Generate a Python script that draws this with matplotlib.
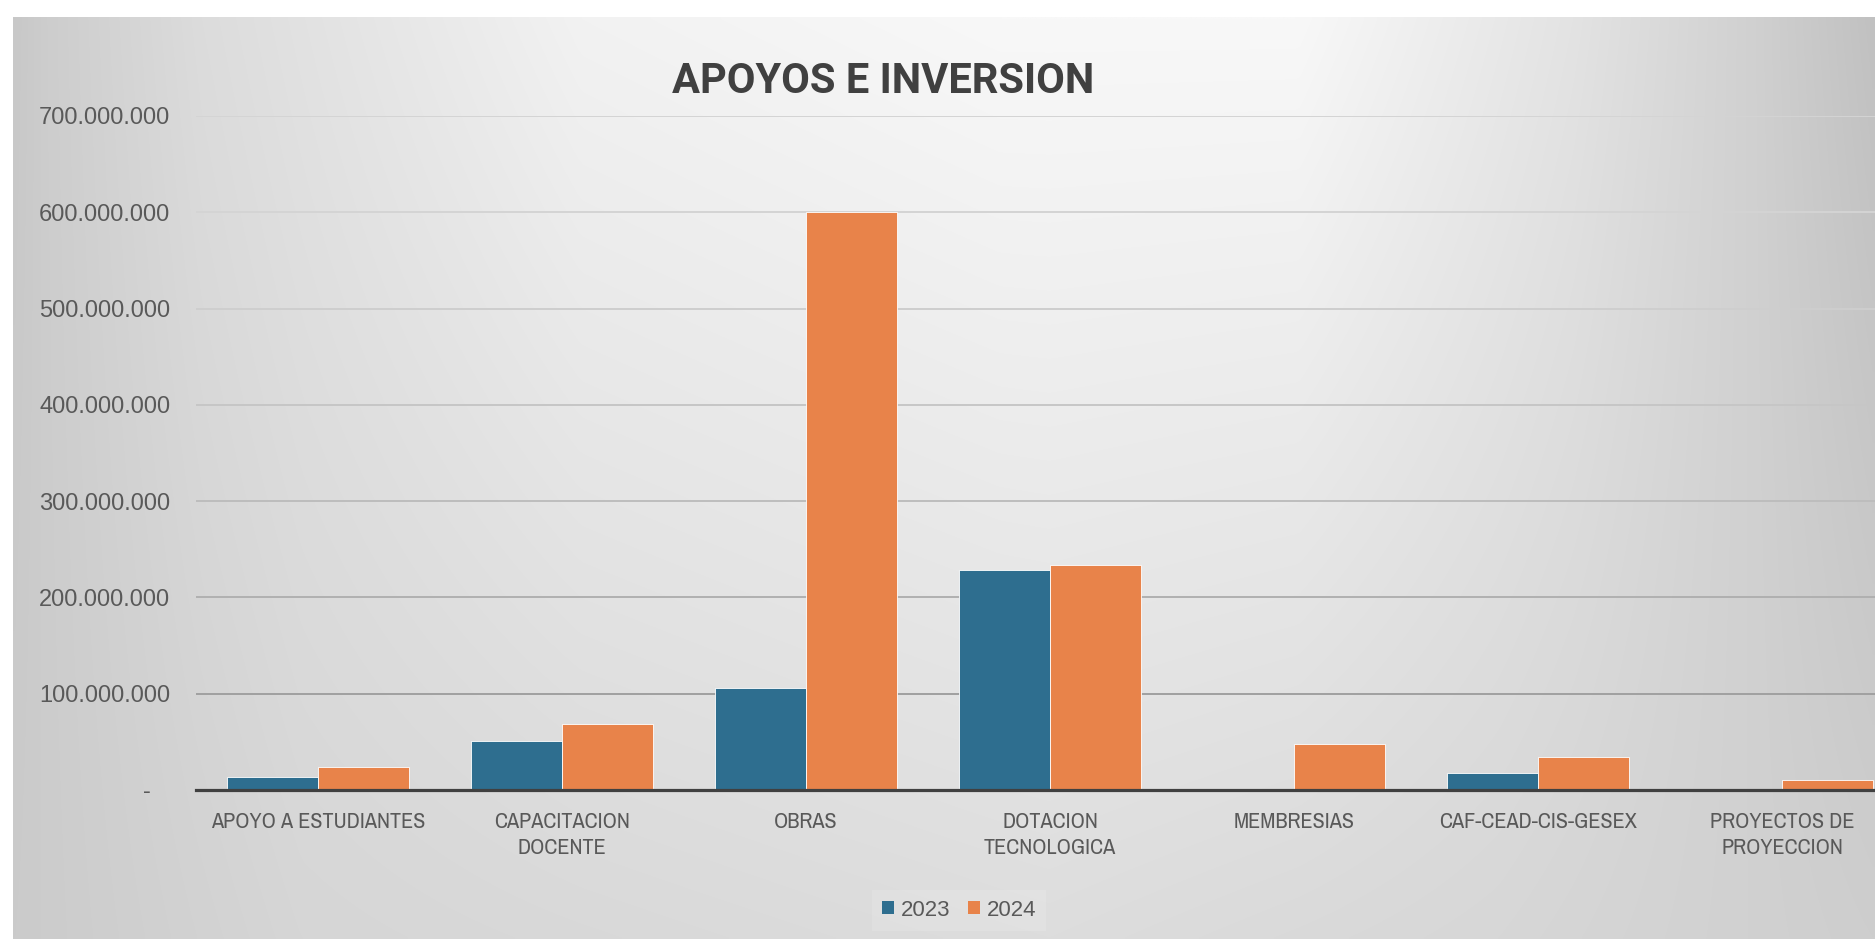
import numpy as np
import matplotlib
matplotlib.use("Agg")
import matplotlib.pyplot as plt
from matplotlib.ticker import FuncFormatter, MultipleLocator
from matplotlib.patches import Patch

# ---------------- data ----------------
categories = ["APOYO A ESTUDIANTES", "CAPACITACION\nDOCENTE", "OBRAS",
              "DOTACION\nTECNOLOGICA", "MEMBRESIAS", "CAF-CEAD-CIS-GESEX",
              "PROYECTOS DE\nPROYECCION"]
series_names = ["2023", "2024"]
values_2023 = [13_000_000, 51_000_000, 106_000_000, 229_000_000, 0, 18_000_000, 0]
values_2024 = [24_000_000, 69_000_000, 600_000_000, 234_000_000, 48_000_000, 34_000_000, 10_000_000]

# ---------------- style ----------------
BLUE = "#2E6E8F"
ORANGE = "#E8834A"
TXT = "#595959"
NARROW = ["Archivo Narrow", "Liberation Sans", "DejaVu Sans"]
REG = ["Liberation Sans", "DejaVu Sans"]
W, H = 1875, 939
DPI = 100

fig = plt.figure(figsize=(W / DPI, H / DPI), dpi=DPI, facecolor="white")

# background gradient (chart area)
bx0, by_top = 13, 17
bg = fig.add_axes([bx0 / W, 0, 1 - bx0 / W, (H - by_top) / H], zorder=-5)
bg.set_axis_off()
xs = np.linspace(bx0, W, 400)
top_kx = [13, 45, 200, 580, 1000, 1300, 1575, 1758, 1875]
top_kg = [200, 205, 220, 242, 248, 248, 227, 208, 193]
bot_kx = [13, 300, 1050, 1500, 1875]
bot_kg = [203, 214, 221, 215, 206]
top_prof = np.interp(xs, top_kx, top_kg)
bot_prof = np.interp(xs, bot_kx, bot_kg)
t = np.linspace(0, 1, 300)[:, None]
grad = (top_prof[None, :] * (1 - t) + bot_prof[None, :] * t) / 255.0
bg.imshow(np.dstack([grad, grad, grad]), aspect="auto", extent=[0, 1, 0, 1],
          origin="upper", interpolation="bilinear")
bg.set_xlim(0, 1)
bg.set_ylim(0, 1)

# main axes
ax_left, ax_right = 196, W
y0_px, ytop_px = 790, 116
ax = fig.add_axes([ax_left / W, (H - y0_px) / H, (ax_right - ax_left) / W,
                   (y0_px - ytop_px) / H])
ax.patch.set_alpha(0)

n = len(categories)
x = np.arange(n)
bw = 0.371
ax.bar(x - bw / 2, values_2023, width=bw, color=BLUE, edgecolor="white",
       linewidth=0.6, label=series_names[0], zorder=3)
ax.bar(x + bw / 2, values_2024, width=bw, color=ORANGE, edgecolor="white",
       linewidth=0.6, label=series_names[1], zorder=3)

ax.set_xlim(-0.5, -0.5 + (ax_right - ax_left) / 244.0)
ax.set_ylim(0, 700_000_000)
ax.yaxis.set_major_locator(MultipleLocator(100_000_000))


def fmt(v, pos):
    if abs(v) < 1:
        return "-   "
    return f"{v:,.0f}".replace(",", ".")


ax.yaxis.set_major_formatter(FuncFormatter(fmt))
ax.set_axisbelow(True)
ax.grid(axis="y", linewidth=1.4)
grid_cols = ["#9a9a9a", "#8c8c8c", "#a0a0a0", "#b0b0b0", "#bdbdbd", "#c6c6c6",
             "#cecece", "#d4d4d4"]
ticks = ax.yaxis.get_major_ticks()
for i, tk in enumerate(ticks):
    tk.gridline.set_color(grid_cols[min(i, len(grid_cols) - 1)])

for s in ["top", "right", "left"]:
    ax.spines[s].set_visible(False)
ax.spines["bottom"].set_color("#404040")
ax.spines["bottom"].set_linewidth(2.3)
ax.spines["bottom"].set_zorder(4)

ax.set_xticks(x)
ax.set_xticklabels(categories, family=NARROW, fontsize=16, color=TXT, linespacing=1.38)
ax.tick_params(axis="x", length=0, pad=16)
ax.tick_params(axis="y", length=0, pad=18.5, labelsize=17, labelcolor=TXT)
for lbl in ax.get_yticklabels():
    lbl.set_family(REG)

# title
fig.text(883 / W, (H - 93) / H, "APOYOS E INVERSION", ha="center", va="baseline",
         fontsize=30, fontweight="bold", color="#404040",
         family=["Roboto", "DejaVu Sans"])

# legend
handles = [Patch(facecolor=BLUE, edgecolor="none"), Patch(facecolor=ORANGE, edgecolor="none")]
leg = fig.legend(handles, series_names, loc="center",
                 bbox_to_anchor=(959 / W, (H - 910) / H), ncol=2, frameon=True,
                 fancybox=False, prop={"family": REG, "size": 16},
                 handlelength=0.55, handleheight=0.55, handletextpad=0.3,
                 columnspacing=0.8, borderpad=0.45,
                 facecolor="white", edgecolor="none", framealpha=0.12)
for txt in leg.get_texts():
    txt.set_color(TXT)

fig.savefig("out.png", dpi=DPI, facecolor="white")
